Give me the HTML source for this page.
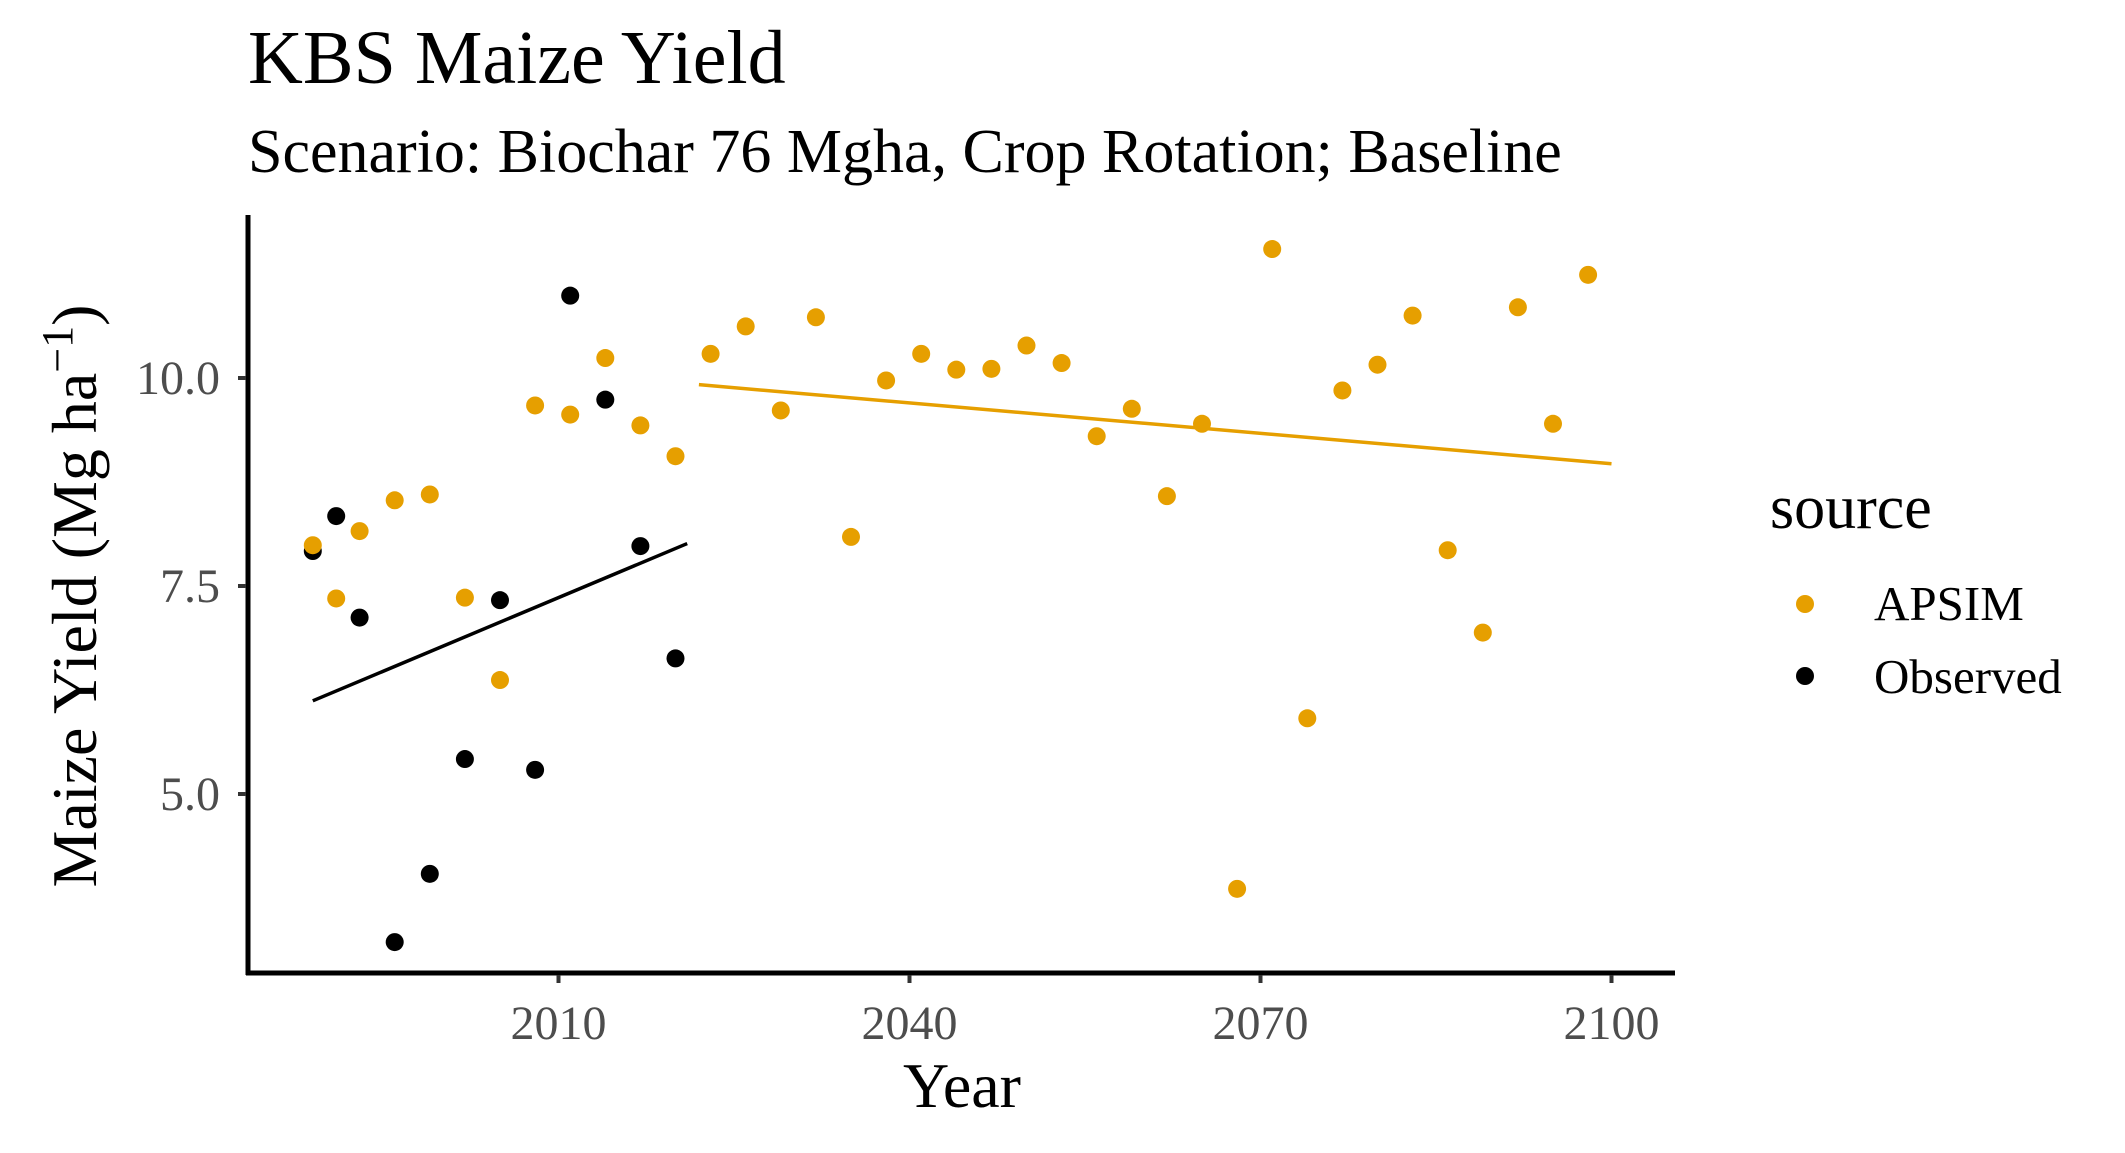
<!DOCTYPE html>
<html><head><meta charset="utf-8"><style>
html,body{margin:0;padding:0;background:#fff;}
svg{display:block;font-family:"Liberation Serif",serif;}
</style></head><body>
<svg id="chart" width="2125" height="1153" viewBox="0 0 2125 1153" xmlns="http://www.w3.org/2000/svg">
<rect width="2125" height="1153" fill="#fff"/>
<text x="248" y="83" font-size="76" fill="#000">KBS Maize Yield</text>
<text x="248" y="172" font-size="62" fill="#000">Scenario: Biochar 76 Mgha, Crop Rotation; Baseline</text>
<g id="plot"></g>
<text x="962" y="1107" font-size="64" text-anchor="middle" fill="#000">Year</text>
<text transform="translate(96,596) rotate(-90)" font-size="64" text-anchor="middle" fill="#000">Maize Yield (Mg ha<tspan dy="-24" font-size="44">−1</tspan><tspan dy="24">)</tspan></text>
<g>
<text x="1770" y="528" font-size="62" fill="#000">source</text>
<circle cx="1805" cy="604" r="9" fill="#E69F00"/>
<text x="1874" y="620" font-size="49" fill="#000">APSIM</text>
<circle cx="1805" cy="676" r="9" fill="#000"/>
<text x="1874" y="693" font-size="49" fill="#000">Observed</text>
</g>
</svg>
<script>
const obsYears=[1989,1991,1993,1996,1999,2002,2005,2008,2011,2014,2017,2020];
const obsValues=[7.92,8.34,7.12,3.22,4.04,5.42,7.33,5.29,10.99,9.74,7.98,6.63];
const apsimYears=[1989,1991,1993,1996,1999,2002,2005,2008,2011,2014,2017,2020,2023,2026,2029,2032,2035,2038,2041,2044,2047,2050,2053,2056,2059,2062,2065,2068,2071,2074,2077,2080,2083,2086,2089,2092,2095,2098];
const apsimValues=[7.99,7.35,8.16,8.53,8.60,7.36,6.37,9.67,9.56,10.24,9.43,9.06,10.29,10.62,9.61,10.73,8.09,9.97,10.29,10.10,10.11,10.39,10.18,9.30,9.63,8.58,9.45,3.86,11.55,5.91,9.85,10.16,10.75,7.93,6.94,10.85,9.45,11.24];
const obsTrendYears=[1989,2021];
const obsTrendValues=[6.12,8.01];
const apsimTrendYears=[2022,2100];
const apsimTrendValues=[9.92,8.97];
const xTicks=[2010,2040,2070,2100];
const yTicks=[5.0,7.5,10.0];

const NS="http://www.w3.org/2000/svg";
const g=document.getElementById('plot');
const X=yr=>558.5+(yr-2010)*11.70;
const Y=v=>378+(10-v)*83.2;
function mk(tag,attrs){const e=document.createElementNS(NS,tag);for(const k in attrs)e.setAttribute(k,attrs[k]);g.appendChild(e);return e;}

let a=mk('line',{x1:248,y1:215,x2:248,y2:975,stroke:'#000','stroke-width':5});


a=mk('line',{x1:246,y1:973,x2:1675,y2:973,stroke:'#000','stroke-width':5});



xTicks.forEach(t=>{
  const l=mk('line',{x1:X(t),y1:975,x2:X(t),y2:983,stroke:'#333','stroke-width':4});
  
  
  const tx=mk('text',{x:X(t),y:1039,'font-size':48,'text-anchor':'middle',fill:'#4d4d4d'});
  tx.textContent=t;
  
  
});
yTicks.forEach(t=>{
  const l=mk('line',{x1:238,y1:Y(t),x2:246,y2:Y(t),stroke:'#333','stroke-width':4});
  
  
  const tx=mk('text',{x:220,y:Y(t)+16,'font-size':48,'text-anchor':'end',fill:'#4d4d4d'});
  tx.textContent=t.toFixed(1);
  
  
});

obsYears.forEach((yr,i)=>{
  const c=mk('circle',{cx:X(yr),cy:Y(obsValues[i]),r:9,fill:'#000'});
  
  
});
apsimYears.forEach((yr,i)=>{
  const c=mk('circle',{cx:X(yr),cy:Y(apsimValues[i]),r:9,fill:'#E69F00'});
  
  
});
let tl=mk('line',{x1:X(obsTrendYears[0]),y1:Y(obsTrendValues[0]),x2:X(obsTrendYears[1]),y2:Y(obsTrendValues[1]),stroke:'#000','stroke-width':3.5});


tl=mk('line',{x1:X(apsimTrendYears[0]),y1:Y(apsimTrendValues[0]),x2:X(apsimTrendYears[1]),y2:Y(apsimTrendValues[1]),stroke:'#E69F00','stroke-width':3.5});


</script>
</body></html>
